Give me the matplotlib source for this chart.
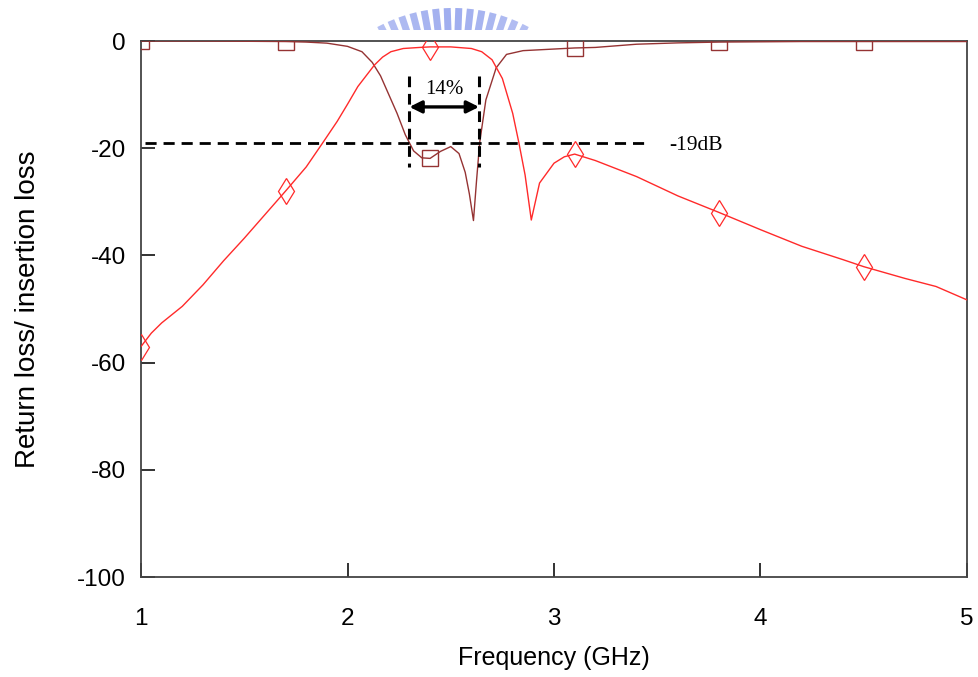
import numpy as np
import matplotlib
matplotlib.use("Agg")
import matplotlib.pyplot as plt
from matplotlib.patches import Rectangle
from matplotlib.transforms import Affine2D

# ---------------- data ----------------
freq_s11 = [1.0, 1.3, 1.5, 1.7, 1.8, 1.9, 2.0, 2.07, 2.12, 2.16, 2.2, 2.24, 2.28, 2.32,
            2.36, 2.4, 2.45, 2.5, 2.54, 2.57, 2.59, 2.61, 2.625, 2.64, 2.67, 2.72, 2.77,
            2.85, 3.0, 3.1, 3.2, 3.4, 3.6, 3.8, 4.2, 4.5, 5.0]
s11_db = [0.0, 0.0, -0.05, -0.1, -0.2, -0.4, -1.0, -2.0, -4.0, -6.5, -10.0, -13.5, -17.5, -20.5,
          -21.8, -21.9, -20.6, -19.7, -21.0, -24.5, -28.5, -33.5, -26.0, -19.0, -11.0, -5.0, -2.5,
          -1.8, -1.5, -1.3, -1.2, -0.6, -0.35, -0.2, -0.1, -0.1, -0.1]

freq_s21 = [1.0, 1.02, 1.05, 1.1, 1.2, 1.3, 1.4, 1.5, 1.6, 1.7, 1.8, 1.88, 1.95, 2.0, 2.05,
            2.1, 2.13, 2.17, 2.21, 2.27, 2.35, 2.4, 2.5, 2.6, 2.65, 2.7, 2.75, 2.8, 2.83,
            2.86, 2.89, 2.93, 3.0, 3.05, 3.1, 3.2, 3.4, 3.6, 3.8, 4.0, 4.2, 4.4, 4.5, 4.7,
            4.85, 5.0]
s21_db = [-57.0, -56.0, -54.5, -52.6, -49.5, -45.5, -41.0, -36.8, -32.4, -28.0, -23.5, -19.0,
          -15.0, -11.8, -8.5, -6.0, -4.5, -3.0, -2.0, -1.4, -1.2, -1.1, -1.1, -1.4, -2.0,
          -3.5, -7.0, -13.5, -19.0, -25.0, -33.4, -26.5, -22.8, -21.6, -21.1, -22.3, -25.3,
          -28.9, -32.0, -35.2, -38.3, -40.8, -42.1, -44.3, -45.8, -48.3]

marker_freq = [1.0, 1.7, 2.4, 3.1, 3.8, 4.5]

ref_level = -19.0
band_edges = [2.30, 2.637]
band_label = "14%"
ref_label = "-19dB"

x_ticks = [1, 2, 3, 4, 5]
y_ticks = [0, -20, -40, -60, -80, -100]

# ---------------- figure ----------------
W, H, DPI = 979, 677, 100
fig = plt.figure(figsize=(W / DPI, H / DPI), dpi=DPI)
fig.patch.set_facecolor("white")
ax = fig.add_axes([141 / W, 1 - 577 / H, (967 - 141) / W, (577 - 41) / H])

dark = "#953333"
red = "#ff2a2a"

idx11 = [freq_s11.index(f) for f in marker_freq]
idx21 = [freq_s21.index(f) for f in marker_freq]

ax.plot(freq_s11, s11_db, color=dark, lw=1.0, marker="s", markersize=11,
        markerfacecolor="none", markeredgecolor=dark, markeredgewidth=1.0,
        markevery=idx11, zorder=3)
ax.plot(freq_s21, s21_db, color=red, lw=1.0, marker="d", markersize=13,
        markerfacecolor="none", markeredgecolor=red, markeredgewidth=0.9,
        markevery=idx21, zorder=3)

# annotations
ax.plot([1.02, 3.45], [ref_level, ref_level], color="black", lw=2.0,
        dashes=(4, 2.5), zorder=4)
for xe in band_edges:
    ax.plot([xe, xe], [-6.5, -23.5], color="black", lw=2.2, dashes=(3.5, 2.2), zorder=4)
ax.annotate("", xy=(band_edges[0], -12.3), xytext=(band_edges[1], -12.3),
            arrowprops=dict(arrowstyle="<|-|>", color="black", lw=2.4,
                            mutation_scale=18, shrinkA=0, shrinkB=0), zorder=5)
ax.text(sum(band_edges) / 2, -9.0, band_label, ha="center", va="center",
        fontsize=15, family="Liberation Serif", color="black")
ax.text(3.56, -19.5, ref_label, ha="left", va="center",
        fontsize=15.5, family="Liberation Serif", color="black")

ax.set_xlim(1, 5)
ax.set_ylim(-100, 0)
ax.set_xticks(x_ticks)
ax.set_yticks(y_ticks)
ax.set_xticklabels([str(t) for t in x_ticks])
ax.set_yticklabels([str(t) for t in y_ticks])
ax.tick_params(axis="both", direction="in", length=10, width=1.3, color="#222222",
               labelsize=17.5, top=False, right=False)
ax.tick_params(axis="x", pad=22)
ax.tick_params(axis="y", pad=11)
for lab in ax.get_xticklabels() + ax.get_yticklabels():
    lab.set_family("Liberation Sans")

for sp in ax.spines.values():
    sp.set_color("#444444")
    sp.set_linewidth(1.3)

ax.set_xlabel("Frequency (GHz)", fontsize=18, family="Liberation Sans", labelpad=12)
ax.set_ylabel("Return loss/ insertion loss", fontsize=20, family="Liberation Sans",
              labelpad=26)

# watermark-like logo above the plot (decorative)
cx, cy, r_out, blen = 453, 168, 160, 22
angles = np.linspace(117, 63, 14)
for ang in angles:
    a = np.deg2rad(ang)
    px = cx + (r_out - blen) * np.cos(a)
    py = cy - (r_out - blen) * np.sin(a)
    fade = 1.0 - 0.5 * abs(ang - 90) / 27.0
    rect = Rectangle((-3.5, 0), 7, blen, facecolor="#9fadef", edgecolor="none",
                     alpha=0.55 + 0.45 * fade)
    t = Affine2D().rotate_deg(ang - 90).translate(px, H - py)
    rect.set_transform(t)
    fig.patches.append(rect)
cover = Rectangle((0, 0), W, H - 30, facecolor="white", edgecolor="none")
cover.set_transform(Affine2D())
fig.patches.append(cover)

ax.set_zorder(2)
ax.patch.set_alpha(1.0)

fig.savefig("out.png", dpi=DPI, facecolor="white")
